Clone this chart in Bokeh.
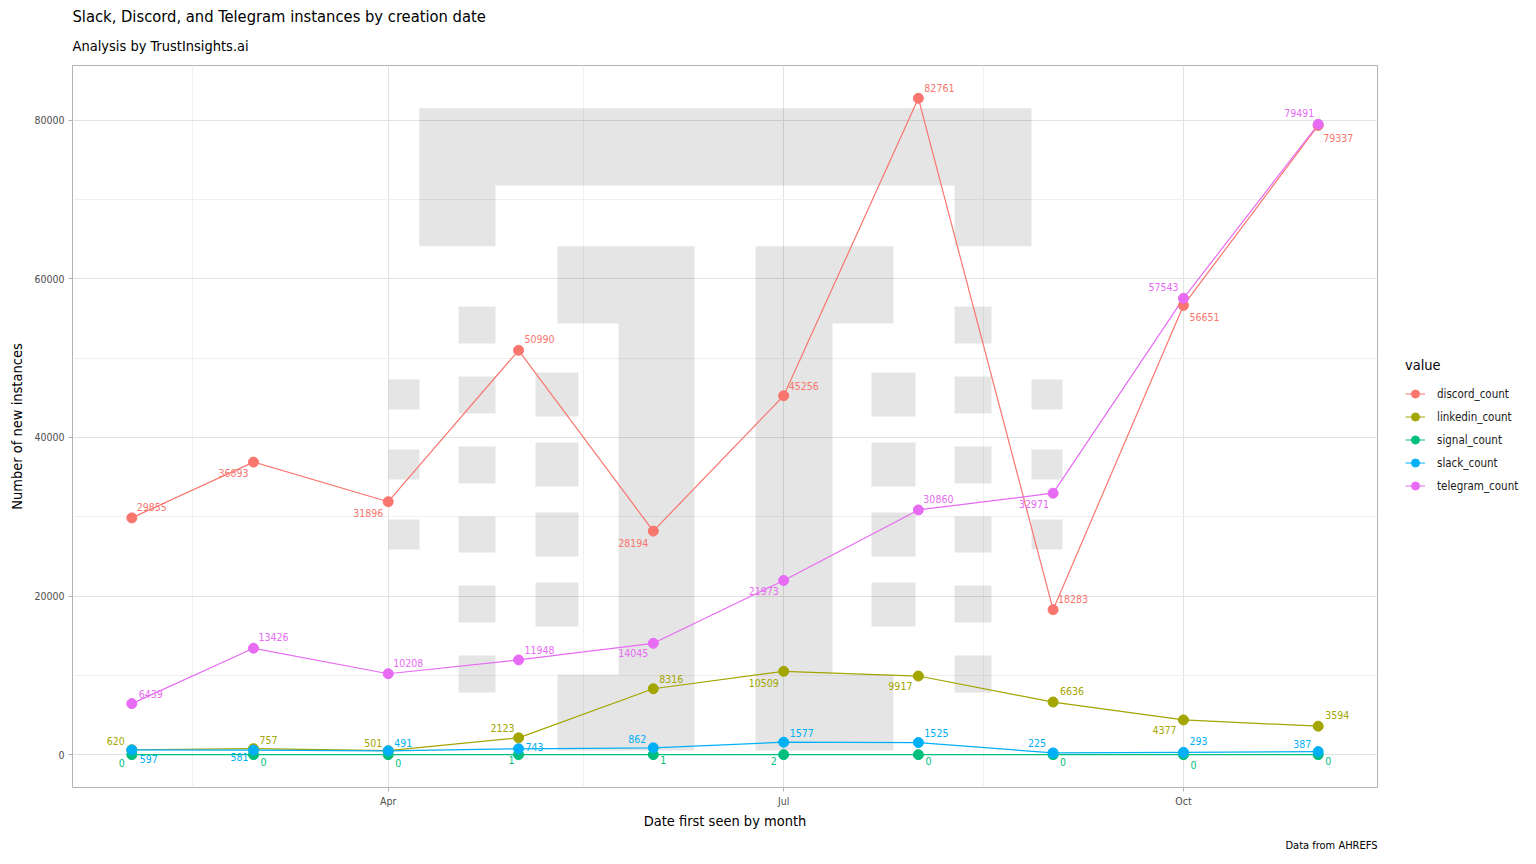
import pandas as pd
from bokeh.plotting import figure
from bokeh.layouts import row
from bokeh.models import (ColumnDataSource, FixedTicker, DatetimeTickFormatter, NumeralTickFormatter,
                          Legend, LegendItem, Title, Range1d)
from bokeh.core.properties import value
from bokeh.embed import file_html
from bokeh.resources import INLINE

# ---------------- data ----------------
months = ["2023-02-01", "2023-03-01", "2023-04-01", "2023-05-01", "2023-06-01",
          "2023-07-01", "2023-08-01", "2023-09-01", "2023-10-01", "2023-11-01"]
discord_count = [29855, 36893, 31896, 50990, 28194, 45256, 82761, 18283, 56651, 79337]
linkedin_count = [620, 757, 501, 2123, 8316, 10509, 9917, 6636, 4377, 3594]
signal_count = [0, 0, 0, 1, 1, 2, 0, 0, 0, 0]
slack_count = [597, 581, 491, 743, 862, 1577, 1525, 225, 293, 387]
telegram_count = [6439, 13426, 10208, 11948, 14045, 21973, 30860, 32971, 57543, 79491]

series_names = ["discord_count", "linkedin_count", "signal_count", "slack_count", "telegram_count"]
series_values = [discord_count, linkedin_count, signal_count, slack_count, telegram_count]
series_colors = ["#F8766D", "#A3A500", "#00BF7D", "#00B0F6", "#E76BF3"]

x_tick_dates = ["2023-04-01", "2023-07-01", "2023-10-01"]
x_minor_dates = ["2022-11-15", "2023-02-15", "2023-05-16", "2023-08-16", "2023-11-15"]
y_ticks = [0, 20000, 40000, 60000, 80000]
y_minor_ticks = [10000, 30000, 50000, 70000]

title_text = "Slack, Discord, and Telegram instances by creation date"
subtitle_text = "Analysis by TrustInsights.ai"
caption_text = "Data from AHREFS"
x_label = "Date first seen by month"
y_label = "Number of new instances"
legend_title = "value"

# label offsets in screen px (right, down) -- repel-like placement
label_offsets = {
    "discord_count": [(20, -11), (-20, 11), (-20, 11), (21, -11), (-20, 12), (20, -10), (21, -10), (20, -11), (21, 12), (20, 13)],
    "linkedin_count": [(-16, -9), (15, -9), (-15, -8), (-16, -10), (18, -10), (-20, 12), (-18, 10), (19, -11), (-19, 10), (19, -11)],
    "signal_count": [(-10, 8), (10, 7), (10, 8), (-7, 5), (10, 5), (-10, 6), (10, 6), (10, 7), (10, 10), (10, 6)],
    "slack_count": [(17, 9), (-14, 7), (15, -8), (16, -2), (-16, -9), (18, -9), (18, -10), (-16, -10), (15, -11), (-16, -8)],
    "telegram_count": [(19, -10), (20, -11), (20, -11), (21, -10), (-20, 10), (-20, 11), (20, -11), (-19, 11), (-20, -11), (-19, -11)],
}

FONT = "DejaVu Sans Condensed"


def ms(d):
    return pd.Timestamp(d).value / 1e6


xs = [ms(d) for d in months]
span = xs[-1] - xs[0]
X0, X1 = xs[0] - 0.05 * span, xs[-1] + 0.05 * span
ymax = max(max(v) for v in series_values)
ymin = min(min(v) for v in series_values)
yspan = ymax - ymin
Y0, Y1 = ymin - 0.05 * yspan, ymax + 0.05 * yspan

# page geometry of the panel (for the decorative watermark)
FL, FR, FT, FB = 72, 1377, 65, 787


def px2x(px):
    return X0 + (px - FL) / (FR - FL) * (X1 - X0)


def py2y(py):
    return Y1 - (py - FT) / (FB - FT) * (Y1 - Y0)


BORDER_L, BORDER_R, BORDER_T, BORDER_B = 72, 6, 65, 70
W_MAIN = BORDER_L + (FR - FL) + BORDER_R
W_LEG = 1528 - W_MAIN
H = BORDER_T + (FB - FT) + BORDER_B

p = figure(width=W_MAIN, height=H, x_axis_type="datetime", title=None,
           x_range=Range1d(X0, X1), y_range=Range1d(Y0, Y1),
           output_backend="svg", toolbar_location=None,
           min_border_left=BORDER_L, min_border_right=BORDER_R,
           min_border_top=BORDER_T, min_border_bottom=BORDER_B)
p.background_fill_color = "white"
p.border_fill_color = "white"
p.outline_line_color = "#b3b3b3"
p.outline_line_width = 1

# ---------- watermark logo (decorative backdrop) ----------
logo_rects = [
    (418.7, 1031, 107.7, 185), (418.7, 495, 185, 245.7), (954, 1031, 185, 245.7),
    (557, 694, 245.7, 323), (618, 694, 323, 674), (557, 694, 674, 750),
    (755, 893, 245.7, 323), (755, 832, 323, 674), (755, 893, 674, 750),
]
win_cols = [
    ((388, 419), [(379, 409), (449, 479), (519, 549)]),
    ((458, 495), [(306, 343), (376, 413), (446, 483), (516, 552), (585, 622), (655, 692)]),
    ((535, 578), [(372, 416), (442, 486), (512, 556), (582, 626)]),
    ((871, 915), [(372, 416), (442, 486), (512, 556), (582, 626)]),
    ((954, 991), [(306, 343), (376, 413), (446, 483), (516, 552), (585, 622), (655, 692)]),
    ((1031, 1062), [(379, 409), (449, 479), (519, 549)]),
]
for (cx0, cx1), rows in win_cols:
    for (ry0, ry1) in rows:
        logo_rects.append((cx0, cx1, ry0, ry1))
p.quad(left=[px2x(r[0]) for r in logo_rects], right=[px2x(r[1]) for r in logo_rects],
       top=[py2y(r[2]) for r in logo_rects], bottom=[py2y(r[3]) for r in logo_rects],
       fill_color="black", fill_alpha=0.1, line_color=None)

# ---------- series ----------
x_dt = pd.to_datetime(months)
sources = []
for name, vals in zip(series_names, series_values):
    offs = label_offsets[name]
    sources.append(ColumnDataSource(dict(
        x=x_dt, y=vals, lab=[str(v) for v in vals],
        dx=[o[0] for o in offs], dy=[o[1] for o in offs])))

for src, col in zip(sources, series_colors):
    p.line("x", "y", source=src, line_color=col, line_width=1.2)
for src, col in zip(sources, series_colors):
    p.scatter("x", "y", source=src, size=10, fill_color=col, line_color=col)
for src, col in zip(sources, series_colors):
    p.text("x", "y", text="lab", source=src, x_offset="dx", y_offset="dy",
           text_color=col, text_font=value(FONT), text_font_size="10.5px",
           text_align="center", text_baseline="middle")

# ---------- axes ----------
p.xaxis.ticker = FixedTicker(ticks=[ms(d) for d in x_tick_dates], minor_ticks=[ms(d) for d in x_minor_dates])
fmt = "%b"
p.xaxis.formatter = DatetimeTickFormatter(milliseconds=fmt, seconds=fmt, minsec=fmt, minutes=fmt, hourmin=fmt,
                                          hours=fmt, days=fmt, months=fmt, years=fmt)
p.yaxis.ticker = FixedTicker(ticks=y_ticks, minor_ticks=y_minor_ticks)
p.yaxis.formatter = NumeralTickFormatter(format="0")
for ax in (p.xaxis, p.yaxis):
    ax.axis_line_color = None
    ax.major_tick_line_color = "#b3b3b3"
    ax.major_tick_out = 4
    ax.major_tick_in = 0
    ax.minor_tick_line_color = None
    ax.major_label_text_font = FONT
    ax.major_label_text_font_size = "10.5px"
    ax.major_label_text_color = "#4d4d4d"
    ax.axis_label_text_font = FONT
    ax.axis_label_text_font_size = "14.5px"
    ax.axis_label_text_font_style = "normal"
    ax.axis_label_text_color = "black"
p.xaxis.axis_label = x_label
p.yaxis.axis_label = y_label
p.xaxis.major_label_standoff = 3
p.xaxis.axis_label_standoff = 3
p.yaxis.major_label_standoff = 4
p.yaxis.axis_label_standoff = 6

for g in (p.xgrid, p.ygrid):
    g.grid_line_color = "#e2e2e2"
    g.grid_line_width = 1
    g.minor_grid_line_color = "#f0f0f0"
    g.minor_grid_line_width = 1

# ---------- titles / caption ----------
p.add_layout(Title(text=subtitle_text, text_font=FONT, text_font_size="14.5px", text_font_style="normal",
                   text_color="black", align="left", standoff=24), "above")
p.add_layout(Title(text=title_text, text_font=FONT, text_font_size="16.4px", text_font_style="normal",
                   text_color="black", align="left", standoff=-4), "above")
p.add_layout(Title(text=caption_text, text_font=FONT, text_font_size="11px", text_font_style="normal",
                   text_color="black", align="right", standoff=11), "below")

# ---------- legend (separate side panel figure) ----------
pl = figure(width=W_LEG, height=H, x_range=Range1d(0, 1), y_range=Range1d(0, 1),
            output_backend="svg", toolbar_location=None, title=None,
            x_axis_location=None, y_axis_location=None,
            min_border_left=0, min_border_right=0, min_border_top=BORDER_T, min_border_bottom=BORDER_B)
pl.outline_line_color = None
pl.xgrid.visible = False
pl.ygrid.visible = False
pl.background_fill_color = "white"
pl.border_fill_color = "white"
items = []
for name, col in zip(series_names, series_colors):
    lr = pl.line(x=[5, 6], y=[5, 6], line_color=col, line_width=1.2)
    sr = pl.scatter(x=[5], y=[5], size=10, fill_color=col, line_color=col)
    items.append(LegendItem(label=name, renderers=[lr, sr]))
legend = Legend(items=items, location="center_left", title=legend_title,
                title_text_font=FONT, title_text_font_size="14.5px", title_text_font_style="normal",
                title_text_color="black", title_standoff=11,
                label_text_font=FONT, label_text_font_size="11.5px", label_text_color="#1a1a1a",
                label_standoff=12, glyph_width=20, glyph_height=20, label_height=20, spacing=3,
                padding=10, margin=22, border_line_color=None, background_fill_alpha=0)
pl.add_layout(legend, "center")

layout = row(p, pl)
open("out.html", "w").write(file_html(layout, INLINE))
